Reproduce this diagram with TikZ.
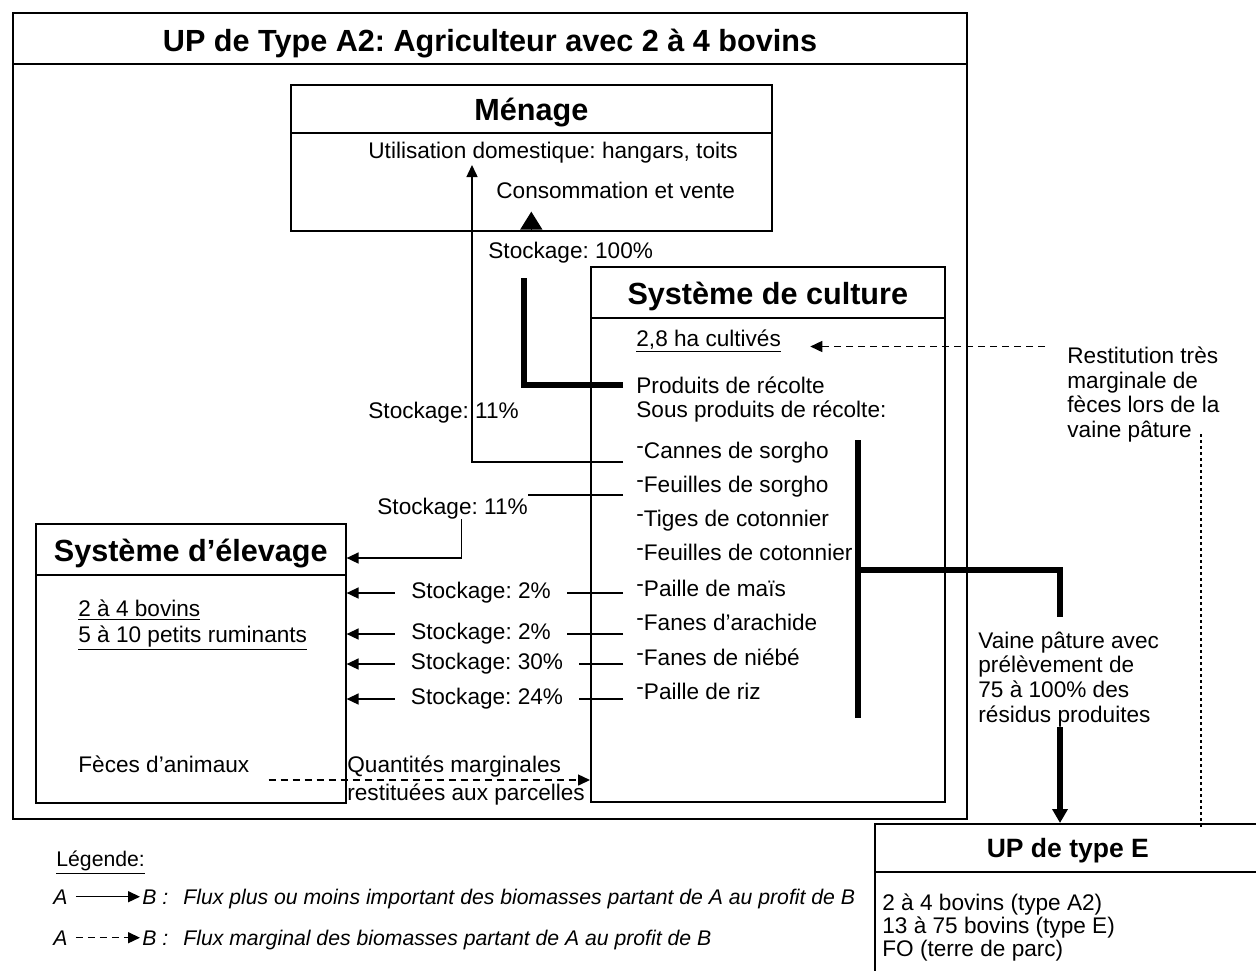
\documentclass[tikz,border=0pt]{standalone}
\usepackage{fontspec}
\setmainfont{Liberation Sans}
\usetikzlibrary{arrows.meta}

\newcommand\body{\fontsize{11.3}{12.3}\selectfont}
\newcommand\headfont{\fontsize{15.3}{17}\selectfont\bfseries}
\newcommand\upefont{\fontsize{13.25}{15}\selectfont\bfseries}
\newcommand\legfont{\fontsize{10.6}{12}\selectfont}
\newcommand\itemdash{\raisebox{0.22em}{-}}
\frenchspacing

\begin{document}
\begin{tikzpicture}[x=0.5pt, y=-0.5pt,
  box/.style={draw, line width=0.8pt, anchor=north west, inner sep=0pt},
  head/.style={font=\headfont, anchor=base, inner sep=0pt},
  txt/.style={anchor=base west, inner sep=0pt, font=\body},
  para/.style={anchor=north west, inner sep=0pt, font=\body, align=left},
  lab/.style={font=\body, inner xsep=8pt, inner ysep=0pt},
  link/.style={line width=0.75pt},
  flow/.style={link, -{Triangle[length=6pt,width=5.5pt]}},
  dflow/.style={flow, dash pattern=on 3.5pt off 2.5pt},
  heavy/.style={line width=2.75pt},
  bigtip/.style={line width=0.75pt, -{Triangle[length=9pt,width=11pt]}},
  vdots/.style={line width=0.6pt, dash pattern=on 1.5pt off 1.5pt},
  legtxt/.style={anchor=base west, inner sep=0pt, font=\legfont\itshape},
]
\useasboundingbox (0,0) rectangle (1256,970);

% boxes
\node[box, line width=1pt, minimum width=477pt, minimum height=403pt] (up) at (12,12) {};
\node[box, minimum width=240.5pt, minimum height=73pt] (menage) at (290,84) {};
\node[box, minimum width=177pt, minimum height=267.5pt] (culture) at (590,266) {};
\node[box, minimum width=155pt, minimum height=139.5pt] (elevage) at (35,523) {};
\node[box, minimum width=193pt, minimum height=80pt] (upe) at (874,823) {};

% title bars
\draw[line width=1pt] ([yshift=-26pt]up.north west) -- ([yshift=-26pt]up.north east);
\draw[link] ([yshift=-24.5pt]menage.north west) -- ([yshift=-24.5pt]menage.north east);
\draw[link] ([yshift=-26pt]culture.north west) -- ([yshift=-26pt]culture.north east);
\draw[link] ([yshift=-26pt]elevage.north west) -- ([yshift=-26pt]elevage.north east);
\draw[link] ([yshift=-24.5pt]upe.north west) -- ([yshift=-24.5pt]upe.north east);

\node[head] (uptitle) at ([yshift=-19.5pt]up.north) {UP de Type A2: Agriculteur avec 2 à 4 bovins};
\node[head] (menagetitle) at ([yshift=-18pt]menage.north) {Ménage};
\node[head] (culturetitle) at ([yshift=-19pt]culture.north) {Système de culture};
\node[head] (elevagetitle) at ([yshift=-19pt]elevage.north) {Système d’élevage};
\node[head, font=\upefont] (upetitle) at ([yshift=-17pt]upe.north) {UP de type E};

% Menage
\node[txt] (util) at (368,158) {Utilisation domestique: hangars, toits};
\node[txt] (conso) at (496,198) {Consommation et vente};

% Systeme de culture
\node[txt] (ha) at (636,346) {\underline{2,8 ha cultivés}};
\node[txt] (prod) at (636,393) {Produits de récolte};
\node[txt] (sousprod) at (636,417) {Sous produits de récolte:};
\node[txt] (cannes) at (636,458) {\itemdash Cannes de sorgho};
\node[txt] (fsorgho) at (636,492) {\itemdash Feuilles de sorgho};
\node[txt] (tiges) at (636,526) {\itemdash Tiges de cotonnier};
\node[txt] (fcoton) at (636,560) {\itemdash Feuilles de cotonnier};
\node[txt] (mais) at (636,596) {\itemdash Paille de maïs};
\node[txt] (arachide) at (636,630) {\itemdash Fanes d’arachide};
\node[txt] (niebe) at (636,665) {\itemdash Fanes de niébé};
\node[txt] (riz) at (636,699) {\itemdash Paille de riz};

% Systeme d'elevage
\node[txt] (bovins) at (78,616) {\underline{2 à 4 bovins}};
\node[txt] (ruminants) at (78,642) {\underline{5 à 10 petits ruminants}};
\node[txt] (feces) at (78,772) {Fèces d’animaux};
\node[para] (quant) at (347,755.5) {Quantités marginales\\[1.7pt]restituées aux parcelles};

% UP de type E
\node[para, font=\fontsize{11.3}{11.5}\selectfont] (upebody) at (882,893.5)
  {2 à 4 bovins (type A2)\\13 à 75 bovins (type E)\\FO (terre de parc)};

% outside texts
\node[para] (restit) at (1067,346.5) {Restitution très\\marginale de\\fèces lors de la\\vaine pâture};
\node[para] (vaine) at (978,631.5) {Vaine pâture avec\\prélèvement de\\75 à 100\% des\\résidus produites};

% stockage labels
\node[txt] (s100) at (488,258) {Stockage: 100\%};
\node[txt] (s11a) at (368,418) {Stockage: 11\%};
\node[txt] (s11b) at (377,514) {Stockage: 11\%};
\node[lab] (s2a) at (481,593) {Stockage: 2\%};
\node[lab] (s2b) at (481,634) {Stockage: 2\%};
\node[lab] (s30) at (487,664) {Stockage: 30\%};
\node[lab] (s24) at (487,699) {Stockage: 24\%};

% flows to the menage
\coordinate (cut) at ([xshift=-6.5pt]cannes.base west);
\coordinate (cannesout) at ([shift={(-13,4)}]cannes.base west);
\coordinate (usein) at ([shift={(104,7)}]util.base west);
\draw[flow] (cannesout) -| (usein);
\coordinate (prodout) at ([shift={(-13,-8)}]prod.base west);
\coordinate (hup) at ([shift={(36,20)}]s100.base west);
\draw[heavy] (prodout) -| (hup);
\draw[bigtip, shorten >=6.5pt] (menage.south) -- (menage.south |- conso.south);

% flows to the elevage
\coordinate (fsout) at ([shift={(-13,3)}]fsorgho.base west);
\draw[link] (fsout) -- (fsout -| s11b.north east);
\draw[flow] ([xshift=4.5pt]s11b.south) |- ([yshift=-17.5pt]elevage.north east);
\foreach \s in {s2a,s2b,s30,s24} {
  \draw[link] (cut |- \s.east) -- (\s.east);
  \draw[flow] (\s.west) -- (\s.west -| elevage.east);
}

% feces back to the fields
\coordinate (fout) at ([shift={(19,8)}]feces.base east);
\draw[dflow] (fout) -- (fout -| culture.west);

% vaine pature
\coordinate (brtop) at (858,440);
\coordinate (brbot) at (858,718);
\coordinate (vp) at (1060,570);
\draw[heavy] (brtop) -- (brbot);
\draw[heavy, shorten >=7.25pt] (brtop |- vp) -- (vp) -- (vp |- vaine.north);
\draw[heavy, -{Triangle[length=7pt,width=7.5pt]}] (vp |- vaine.south) -- (vp |- upe.north);

% restitution
\draw[dflow, shorten >=14.5pt] ([xshift=-11pt]restit.north west) -- (restit.north west -| ha.east);
\coordinate (dtop) at ([shift={(134,-8)}]restit.south west);
\draw[vdots, shorten >=-2.5pt] (dtop) -- (dtop |- upe.north);

% legende
\node[anchor=base west, inner sep=0pt, font=\legfont] (legende) at (56,866) {\underline{Légende:}};
\node[legtxt] (a1) at (53,904) {A};
\node[legtxt] (b1) at (142,904) {B :};
\node[legtxt] (d1) at (183,904) {Flux plus ou moins important des biomasses partant de A au profit de B};
\node[legtxt] (a2) at (53,945) {A};
\node[legtxt] (b2) at (142,945) {B :};
\node[legtxt] (d2) at (183,945) {Flux marginal des biomasses partant de A au profit de B};
\draw[flow, shorten <=4pt, shorten >=1pt] (a1.east) -- (b1.west |- a1.east);
\draw[dflow, shorten <=4pt, shorten >=1pt] (a2.east) -- (b2.west |- a2.east);
\end{tikzpicture}
\end{document}
